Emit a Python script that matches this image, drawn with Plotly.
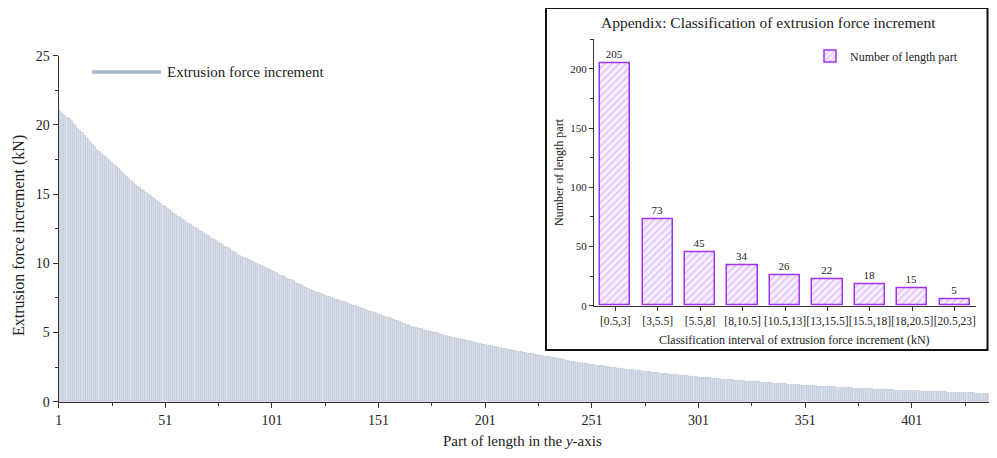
import plotly.graph_objects as go

# ---------------- data ----------------
increment_kN = [
    21.10, 20.96, 20.82, 20.69, 20.55,
    20.45, 20.28, 20.11, 19.94, 19.76, 19.59, 19.42, 19.25, 19.08, 18.91, 18.74, 18.56, 18.39, 18.22, 18.05,
    17.95, 17.81, 17.67, 17.53, 17.39, 17.24, 17.10, 16.96, 16.82, 16.68, 16.54, 16.40, 16.26, 16.11, 15.97, 15.83, 15.69, 15.55,
    15.45, 15.34, 15.22, 15.11, 14.99, 14.88, 14.76, 14.65, 14.54, 14.42, 14.31, 14.19, 14.08, 13.96, 13.85, 13.74, 13.62, 13.51, 13.39, 13.28, 13.16, 13.05,
    12.95, 12.85, 12.76, 12.66, 12.57, 12.47, 12.37, 12.28, 12.18, 12.09, 11.99, 11.89, 11.80, 11.70, 11.61, 11.51, 11.41, 11.32, 11.22, 11.13, 11.03, 10.93, 10.84, 10.74, 10.65, 10.55,
    10.45, 10.38, 10.30, 10.23, 10.16, 10.09, 10.01, 9.94, 9.87, 9.80, 9.72, 9.65, 9.58, 9.51, 9.43, 9.36, 9.29, 9.21, 9.14, 9.07, 9.00, 8.92, 8.85, 8.78, 8.71, 8.63, 8.56, 8.49, 8.42, 8.34, 8.27, 8.20, 8.12, 8.05,
    7.95, 7.90, 7.84, 7.79, 7.73, 7.68, 7.62, 7.57, 7.51, 7.46, 7.40, 7.35, 7.30, 7.24, 7.19, 7.13, 7.08, 7.02, 6.97, 6.91,
    6.86, 6.80, 6.75, 6.70, 6.64, 6.59, 6.53, 6.48, 6.42, 6.37, 6.31, 6.26, 6.20, 6.15, 6.10, 6.04, 5.99, 5.93, 5.88, 5.82,
    5.77, 5.71, 5.66, 5.60, 5.55,
    5.45, 5.41, 5.37, 5.32, 5.28, 5.24, 5.20, 5.16, 5.11, 5.07, 5.03, 4.99, 4.95, 4.91, 4.87, 4.84, 4.80, 4.76, 4.72, 4.68,
    4.64, 4.60, 4.57, 4.53, 4.50, 4.46, 4.42, 4.39, 4.35, 4.32, 4.28, 4.25, 4.21, 4.18, 4.15, 4.12, 4.08, 4.05, 4.02, 3.98,
    3.95, 3.92, 3.89, 3.86, 3.83, 3.80, 3.76, 3.73, 3.70, 3.67, 3.64, 3.61, 3.58, 3.56, 3.53, 3.50, 3.47, 3.44, 3.42, 3.39,
    3.36, 3.33, 3.31, 3.28, 3.26, 3.23, 3.20, 3.18, 3.15, 3.13, 3.10, 3.08, 3.05,
    2.95, 2.93, 2.90, 2.88, 2.86, 2.83, 2.81, 2.79, 2.77, 2.74, 2.72, 2.70, 2.67, 2.65, 2.63, 2.61, 2.59, 2.57, 2.54, 2.52,
    2.50, 2.48, 2.46, 2.44, 2.42, 2.40, 2.38, 2.36, 2.34, 2.32, 2.30, 2.28, 2.26, 2.25, 2.23, 2.21, 2.19, 2.17, 2.16, 2.14,
    2.12, 2.10, 2.09, 2.07, 2.05, 2.04, 2.02, 2.00, 1.98, 1.97, 1.95, 1.94, 1.92, 1.91, 1.89, 1.88, 1.86, 1.85, 1.83, 1.82,
    1.80, 1.79, 1.77, 1.76, 1.74, 1.73, 1.72, 1.70, 1.69, 1.67, 1.66, 1.65, 1.63, 1.62, 1.61, 1.59, 1.58, 1.57, 1.56, 1.54,
    1.53, 1.52, 1.50, 1.49, 1.48, 1.47, 1.46, 1.45, 1.43, 1.42, 1.41, 1.40, 1.39, 1.37, 1.36, 1.35, 1.34, 1.33, 1.32, 1.31,
    1.30, 1.29, 1.28, 1.27, 1.26, 1.25, 1.23, 1.22, 1.21, 1.20, 1.19, 1.18, 1.17, 1.16, 1.15, 1.15, 1.14, 1.13, 1.12, 1.11,
    1.10, 1.09, 1.08, 1.07, 1.06, 1.06, 1.05, 1.04, 1.03, 1.02, 1.01, 1.00, 0.99, 0.99, 0.98, 0.97, 0.96, 0.95, 0.95, 0.94,
    0.93, 0.92, 0.92, 0.91, 0.90, 0.90, 0.89, 0.88, 0.87, 0.87, 0.86, 0.85, 0.85, 0.84, 0.83, 0.83, 0.82, 0.81, 0.81, 0.80,
    0.79, 0.78, 0.78, 0.77, 0.77, 0.76, 0.75, 0.75, 0.74, 0.74, 0.73, 0.72, 0.72, 0.71, 0.71, 0.70, 0.70, 0.69, 0.69, 0.68,
    0.67, 0.67, 0.66, 0.66, 0.65, 0.65, 0.64, 0.64, 0.63, 0.63, 0.62, 0.62, 0.61, 0.61, 0.60, 0.60, 0.59, 0.59, 0.58, 0.58,
    0.57, 0.57, 0.56, 0.56, 0.55,
]
part_index = list(range(1, len(increment_kN) + 1))

interval_labels = ["[0.5,3]", "[3,5.5]", "[5.5,8]", "[8,10.5]", "[10.5,13]",
                   "[13,15.5]", "[15.5,18]", "[18,20.5]", "[20.5,23]"]
part_counts = [205, 73, 45, 34, 26, 22, 18, 15, 5]

# ---------------- helpers (screen pixel -> paper) ----------------
# the page places the figure 8px from the top-left corner of the window
OFF = 8
W, H = 997 - 2 * OFF, 458 - 2 * OFF
def px(x):
    return (x - OFF) / W
def py(y):
    return (H - (y - OFF)) / H

FONT = "Times New Roman, Liberation Serif, serif"
AX = "#333333"
TXT = "#222222"

fig = go.Figure()

fig.add_trace(go.Bar(
    x=part_index, y=increment_kN, width=1.0,
    marker=dict(color="#d9e0ea", line=dict(color="#b4bfd0", width=0.5)),
    showlegend=False, xaxis="x", yaxis="y",
    name="Extrusion force increment",
))

fig.add_trace(go.Bar(
    x=interval_labels, y=part_counts, width=0.71,
    text=[str(v) for v in part_counts], textposition="outside",
    textfont=dict(size=11, color=TXT, family=FONT), cliponaxis=False,
    marker=dict(
        color="#f5ecff",
        line=dict(color="#a033f0", width=1.5),
        pattern=dict(shape="/", fgcolor="#c994f5", bgcolor="#f6eeff", size=5, solidity=0.3),
    ),
    name="Number of length part", legend="legend2",
    xaxis="x2", yaxis="y2",
))

fig.update_layout(
    width=W, height=H,
    margin=dict(l=0, r=0, t=0, b=0, autoexpand=False),
    paper_bgcolor="white", plot_bgcolor="rgba(0,0,0,0)",
    font=dict(family=FONT, size=14, color=TXT),
    bargap=0,
    xaxis=dict(
        domain=[px(58.7), 1.0], anchor="y", range=[1, 437.2],
        tickmode="linear", tick0=1, dtick=50,
        ticks="outside", ticklen=5, tickwidth=1.2, tickcolor=AX,
        minor=dict(tick0=1, dtick=25, ticks="outside", ticklen=3, tickwidth=1.2, tickcolor=AX),
        showline=True, linecolor=AX, linewidth=1.3,
        showgrid=False, zeroline=False, automargin=False,
        tickfont=dict(size=14, family=FONT, color=TXT),
    ),
    yaxis=dict(
        domain=[py(401.7), py(55.7)], anchor="x", range=[0, 25],
        tickmode="linear", tick0=0, dtick=5,
        ticks="outside", ticklen=5, tickwidth=1.2, tickcolor=AX,
        minor=dict(tick0=0, dtick=2.5, ticks="outside", ticklen=3, tickwidth=1.2, tickcolor=AX),
        showline=True, linecolor=AX, linewidth=1.3,
        showgrid=False, zeroline=False, automargin=False,
        tickfont=dict(size=14, family=FONT, color=TXT),
    ),
    xaxis2=dict(
        domain=[px(594), px(976)], anchor="y2", type="category", range=[-0.5, 8.5],
        ticks="outside", ticklen=4, tickwidth=1, tickcolor=AX, tickangle=0,
        showline=True, linecolor=AX, linewidth=1.2,
        showgrid=False, zeroline=False, automargin=False,
        tickfont=dict(size=11.5, family=FONT, color=TXT),
    ),
    yaxis2=dict(
        domain=[py(305.7), py(39.3)], anchor="x2", range=[0, 225],
        tickmode="linear", tick0=0, dtick=50,
        ticks="outside", ticklen=4, tickwidth=1, tickcolor=AX,
        minor=dict(tick0=0, dtick=25, ticks="outside", ticklen=2.5, tickwidth=1, tickcolor=AX),
        showline=True, linecolor=AX, linewidth=1.2,
        showgrid=False, zeroline=False, automargin=False,
        tickfont=dict(size=11, family=FONT, color=TXT),
    ),
    showlegend=True,
    legend2=dict(
        x=px(810), y=py(56), xanchor="left", yanchor="middle",
        bgcolor="rgba(0,0,0,0)", font=dict(size=12, family=FONT, color=TXT),
        itemwidth=30,
    ),
    shapes=[
        dict(type="rect", xref="paper", yref="paper",
             x0=px(546), x1=px(987.5), y0=py(350), y1=min(1.0, py(3)),
             line=dict(color="#111111", width=2), fillcolor="white", layer="below"),
        dict(type="line", xref="paper", yref="paper",
             x0=px(92), x1=px(161), y0=py(72), y1=py(72),
             line=dict(color="#a9b5c8", width=3.5)),
    ],
    annotations=[
        dict(text="Extrusion force increment", xref="paper", yref="paper",
             x=px(165), y=py(72), xanchor="left", yanchor="middle",
             showarrow=False, font=dict(size=15, family=FONT, color=TXT)),
        dict(text="Extrusion force increment (kN)", xref="paper", yref="paper",
             x=px(19), y=py(236), xanchor="center", yanchor="middle", textangle=-90,
             showarrow=False, font=dict(size=16, family=FONT, color=TXT)),
        dict(text="Part of length in the <i>y</i>-axis", xref="paper", yref="paper",
             x=px(522), y=py(441), xanchor="center", yanchor="middle",
             showarrow=False, font=dict(size=15, family=FONT, color=TXT)),
        dict(text="Appendix: Classification of extrusion force increment", xref="paper", yref="paper",
             x=px(768), y=py(23), xanchor="center", yanchor="middle",
             showarrow=False, font=dict(size=15.5, family=FONT, color=TXT)),
        dict(text="Classification interval of extrusion force increment (kN)", xref="paper", yref="paper",
             x=px(794), y=py(340), xanchor="center", yanchor="middle",
             showarrow=False, font=dict(size=12, family=FONT, color=TXT)),
        dict(text="Number of length part", xref="paper", yref="paper",
             x=px(559), y=py(172), xanchor="center", yanchor="middle", textangle=-90,
             showarrow=False, font=dict(size=12, family=FONT, color=TXT)),
    ],
)

fig.write_html("out.html")
